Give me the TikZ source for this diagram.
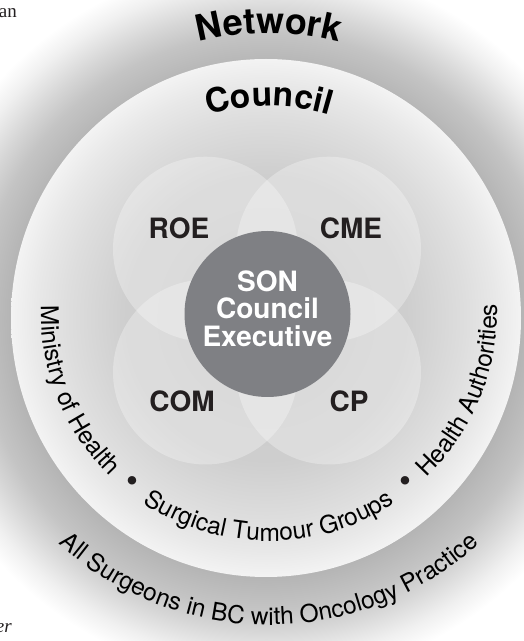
\documentclass[tikz,border=0pt]{standalone}
\usepackage{fontspec}
\setmainfont{TeX Gyre Heros}
\newfontfamily\pageserif{Liberation Serif}
\usetikzlibrary{decorations.text}

\definecolor{labink}{HTML}{231F20}
\definecolor{soncol}{HTML}{7F8084}

% soft grey glow of the Network ring (25bp = outer radius of the shaded path)
\pgfdeclareradialshading{networkglow}{\pgfpoint{0bp}{0bp}}{%
  rgb(0bp)=(0.706,0.706,0.706);
  rgb(17.7bp)=(0.706,0.706,0.706);
  rgb(20bp)=(0.769,0.769,0.769);
  rgb(21.5bp)=(0.839,0.839,0.839);
  rgb(23.5bp)=(0.941,0.941,0.941);
  rgb(25bp)=(1,1,1);
  rgb(50bp)=(1,1,1)}

% Council disc: darker centre, pale rim
\pgfdeclareradialshading{councilglow}{\pgfpoint{0bp}{0bp}}{%
  rgb(0bp)=(0.776,0.776,0.776);
  rgb(14bp)=(0.81,0.81,0.81);
  rgb(19.5bp)=(0.87,0.87,0.87);
  rgb(22.5bp)=(0.91,0.91,0.91);
  rgb(25bp)=(0.953,0.953,0.953);
  rgb(50bp)=(0.953,0.953,0.953)}

\newcommand\titlefont{\bfseries\fontsize{36}{36}\selectfont}
\newcommand\councilfont{\bfseries\fontsize{33.5}{33.5}\selectfont}
\newcommand\ringfont{\fontsize{24.5}{24.5}\selectfont}
\newcommand\dotfont{\fontsize{34}{34}\selectfont}
\newcommand\labfont{\bfseries\fontsize{28}{28}\selectfont}
\newcommand\sonfont{\bfseries\fontsize{28}{27.5}\selectfont}

\begin{document}
\begin{tikzpicture}[x=1pt,y=1pt,
  venn/.style={fill=white, fill opacity=0.3},
  lab/.style={font=\labfont, text=labink, inner sep=0pt},
  ringtext/.style={decorate, color=labink},
  sep/.style={font=\dotfont, text=labink, inner sep=0pt},
  pagefrag/.style={font=\pageserif\fontsize{19}{19}\selectfont, text=labink, inner sep=0pt, anchor=base east}]

\useasboundingbox (0,0) rectangle (523,641);
\fill[white] (0,0) rectangle (523,641);

% Network ring
\shade[shading=networkglow] (266,320) circle[radius=360pt];

% Council disc
\shade[shading=councilglow] (266,323) ellipse[x radius=255pt, y radius=259pt];

% four committees
\fill[venn] (205.4,391.9) circle[radius=92.4pt];
\fill[venn] (328.6,391.9) circle[radius=92.4pt];
\fill[venn] (205.4,268.9) circle[radius=92.4pt];
\fill[venn] (328.6,268.9) circle[radius=92.4pt];

% executive core
\fill[soncol] (267.5,327) circle[radius=83pt];
\node[font=\sonfont, text=white, align=center, inner sep=0pt] (son) at (267.5,332.5)
  {SON\\Council\\Executive};

\node[lab] (roe) at (179,412.5) {ROE};
\node[lab] (cme) at (351,412.5) {CME};
\node[lab] (com) at (182,240) {COM};
\node[lab] (cp)  at (349,240) {CP};

% ring titles
\coordinate (T) at (269,328);
\path[ringtext, decoration={text along path, text={|\titlefont|Network}, text align=center}]
  (T) ++(115:279.7pt) arc[start angle=115, end angle=65, radius=279.7pt];
\path[ringtext, decoration={text along path, text={|\councilfont|Council}, text align=center}]
  (T) ++(120:207pt) arc[start angle=120, end angle=60, radius=207pt];

% members of the Council
\path[ringtext, decoration={text along path, text={|\ringfont|Ministry of Health}, text align=center}]
  (T) ++(172:228pt) arc[start angle=172, end angle=232, radius=228pt];
\path[ringtext, decoration={text along path, text={|\ringfont|Surgical Tumour Groups}, text align=center}]
  (T) ++(232:228pt) arc[start angle=232, end angle=308, radius=228pt];
\path[ringtext, decoration={text along path, text={|\ringfont|Health Authorities}, text align=center}]
  (T) ++(308:228pt) arc[start angle=308, end angle=368, radius=228pt];
\path (T) ++(231.5:219pt) node[sep] (dotA) {•};
\path (T) ++(308.5:219pt) node[sep] (dotB) {•};

% members of the Network
\path[ringtext, decoration={text along path, text={|\ringfont|All Surgeons in BC with Oncology Practice}, text align=center}]
  (T) ++(215:312pt) arc[start angle=215, end angle=325, radius=312pt];

% running text of the page
\node[pagefrag] (pagetop) at (17,623) {an};
\node[pagefrag, font=\pageserif\itshape\fontsize{19}{19}\selectfont] (pagebottom) at (12,9) {er};
\end{tikzpicture}
\end{document}
